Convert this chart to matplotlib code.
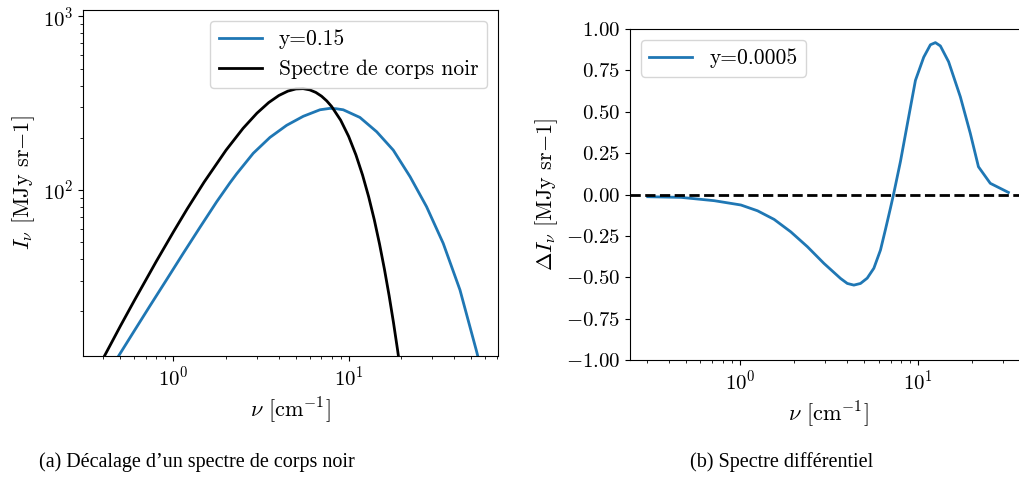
import numpy as np
import matplotlib
matplotlib.use("Agg")
import matplotlib.pyplot as plt
from matplotlib.ticker import FormatStrFormatter

plt.rcParams['font.family'] = 'serif'
plt.rcParams['font.serif'] = ['cmr10']
plt.rcParams['mathtext.fontset'] = 'cm'
plt.rcParams['axes.formatter.use_mathtext'] = True
plt.rcParams['axes.unicode_minus'] = True
plt.rcParams['font.size'] = 16
plt.rcParams['xtick.labelsize'] = 15
plt.rcParams['ytick.labelsize'] = 15

# Left panel: black body spectrum
nu_bb = [0.35, 0.40, 0.45, 0.50, 0.60, 0.70, 0.80, 1.0, 1.2, 1.5, 2.0, 2.5,
         3.0, 3.5, 4.0, 4.5, 5.0, 5.5, 6.0, 6.5, 7.0, 7.5, 8.0, 9.0, 10.0,
         11.0, 12.0, 13.0, 14.0, 15.0, 16.0, 17.0, 18.0, 19.0, 20.0]
I_bb = [8.4, 10.8, 13.5, 16.5, 23.1, 30.5, 38.8, 57.2, 77.8, 111.2, 169.8,
        226.7, 277.3, 319.1, 350.5, 371.4, 382.3, 383.8, 377.6, 365.0, 347.4,
        326.2, 302.7, 252.7, 203.6, 159.4, 122.0, 91.5, 67.4, 48.8, 34.9,
        24.7, 17.3, 12.0, 8.3]

# Left panel: distorted spectrum (y=0.15)
nu_y = [0.42, 0.486, 0.591, 0.736, 0.917, 1.14, 1.42, 1.768, 2.105, 2.298,
        2.858, 3.558, 4.43, 5.51, 6.86, 7.82, 8.5, 9.31, 11.59, 14.45, 17.96,
        22.4, 27.8, 34.6, 43.1, 53.7, 58.0]
I_y = [8.7, 11.0, 15.1, 21.5, 30.5, 43.2, 61.0, 85.6, 110.1, 124.0, 162.9,
       201.0, 236.0, 266.0, 290.0, 295.5, 294.0, 290.0, 262.0, 216.6, 169.8,
       119.3, 80.2, 49.3, 26.6, 11.7, 8.5]

# Right panel: differential spectrum (y=0.0005)
nu_d = [0.304, 0.468, 0.718, 1.013, 1.256, 1.556, 1.929, 2.392, 2.963, 3.673,
        4.006, 4.36, 4.75, 5.18, 5.645, 6.15, 6.56, 7.0, 7.30, 7.96, 8.68,
        9.66, 10.75, 11.72, 12.5, 13.33, 14.83, 17.25, 19.62, 21.8, 25.4, 32.1]
dI = [-0.013, -0.017, -0.037, -0.063, -0.098, -0.150, -0.225, -0.315, -0.416,
      -0.507, -0.537, -0.547, -0.537, -0.505, -0.445, -0.335, -0.210, -0.080,
      0.007, 0.200, 0.42, 0.690, 0.830, 0.905, 0.918, 0.898, 0.802, 0.591,
      0.37, 0.168, 0.068, 0.013]
yticks_d = [-1.0, -0.75, -0.5, -0.25, 0.0, 0.25, 0.5, 0.75, 1.0]

fig = plt.figure(figsize=(10.19, 4.84), dpi=100)

ax1 = fig.add_axes([0.0815, 0.2645, 0.4072, 0.7145])
ax1.plot(nu_y, I_y, color='#1f77b4', lw=2, label='y=0.15')
ax1.plot(nu_bb, I_bb, color='black', lw=2, label='Spectre de corps noir')
ax1.set_xscale('log')
ax1.set_yscale('log')
ax1.set_xlim(0.306, 71)
ax1.set_ylim(11.07, 1087)
ax1.set_xlabel(r'$\nu$ [cm$^{-1}$]')
ax1.set_ylabel(r'$I_\nu$ [MJy sr$-$1]')
ax1.legend(loc='upper right', fontsize=15.5)

ax2 = fig.add_axes([0.618, 0.256, 0.39, 0.684])
ax2.plot(nu_d, dI, color='#1f77b4', lw=2, label='y=0.0005')
ax2.axhline(0, color='black', ls='--', lw=2)
ax2.set_xscale('log')
ax2.set_xlim(0.241, 40.9)
ax2.set_ylim(-1, 1)
ax2.set_yticks(yticks_d)
ax2.yaxis.set_major_formatter(FormatStrFormatter(r'$%.2f$'))
ax2.set_xlabel(r'$\nu$ [cm$^{-1}$]')
ax2.set_ylabel(r'$\Delta I_\nu$ [MJy sr$-$1]')
ax2.legend(loc='upper left', fontsize=15.5)

fig.text(0.193, 0.045, "(a) Décalage d’un spectre de corps noir",
         family='Liberation Serif', fontsize=14.5, ha='center', va='center')
fig.text(0.767, 0.045, "(b) Spectre différentiel",
         family='Liberation Serif', fontsize=14.5, ha='center', va='center')

fig.savefig('out.png', dpi=100)
